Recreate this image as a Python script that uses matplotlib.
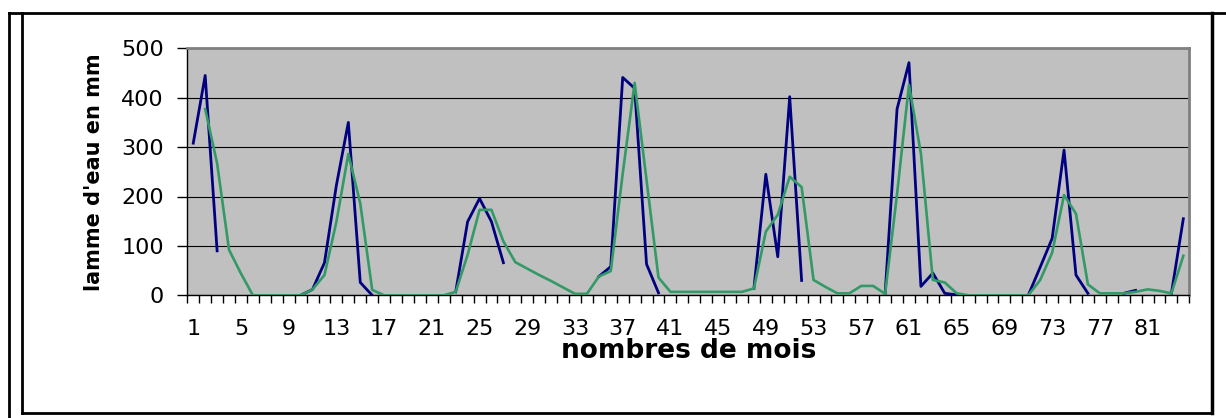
import numpy as np
import matplotlib
matplotlib.use('Agg')
import matplotlib.pyplot as plt
from matplotlib.lines import Line2D

nan = np.nan

# months 1..84
mois = np.arange(1, 85)

# observed (blue) - gaps where the series is not drawn
observe = [308, 445, 90, nan, nan, nan, nan, nan, nan, 0,
           12, 66, 223, 350, 26, 0, nan, nan, nan, nan,
           nan, nan, 7, 149, 196, 149, 66, nan, nan, nan,
           nan, nan, nan, nan, 38, 58, 441, 419, 63, 5,
           nan, nan, nan, nan, nan, nan, nan, 14, 245, 78,
           402, 30, nan, nan, nan, nan, nan, nan, 3, 377,
           471, 18, 45, 4, 1, nan, nan, nan, nan, nan,
           0, 57, 115, 294, 41, 4, nan, nan, 4, 10,
           nan, nan, 4, 155]

# simulated (green)
simule = [nan, 377, 267, 92, 44, 0, 0, 0, 0, 0,
          12, 41, 149, 286, 186, 11, 0, 0, 0, 0,
          0, 0, 7, 82, 173, 173, 109, 67, 54, 41,
          29, 16, 3, 3, 38, 49, 246, 430, 233, 36,
          7, 7, 7, 7, 7, 7, 7, 14, 129, 163,
          240, 219, 31, 17, 4, 4, 19, 19, 3, 205,
          426, 287, 31, 26, 4, 0, 0, 0, 0, 0,
          0, 31, 86, 203, 165, 22, 4, 4, 4, 7,
          12, 9, 4, 80]

fig = plt.figure(figsize=(12.26, 4.18), dpi=100)
W, H = 1226.0, 418.0
ax = fig.add_axes([187.3 / W, 1 - 295.3 / H, 1002 / W, 247 / H])
ax.set_facecolor('#C0C0C0')

ax.plot(mois, observe, color='#000080', lw=2.0, zorder=3)
ax.plot(mois, simule, color='#339966', lw=1.9, zorder=4)

ax.set_xlim(0.5, 84.5)
ax.set_ylim(0, 500)
ax.set_yticks([0, 100, 200, 300, 400, 500])
ax.grid(axis='y', color='black', lw=0.8, zorder=1)
ax.set_axisbelow(True)

ax.set_xticks(np.arange(1, 85, 4))
ax.set_xticklabels([str(v) for v in np.arange(1, 85, 4)])
ax.set_xticks(np.arange(0.5, 85, 1), minor=True)
ax.tick_params(axis='x', which='major', length=0, pad=17, labelsize=16)
ax.tick_params(axis='x', which='minor', length=6, width=1, direction='out', color='black')
ax.tick_params(axis='y', length=7, width=1, direction='out', pad=10, labelsize=16)

for s in ['top', 'right']:
    ax.spines[s].set_color('#808080')
    ax.spines[s].set_linewidth(2)
for s in ['left', 'bottom']:
    ax.spines[s].set_color('black')
    ax.spines[s].set_linewidth(1)

ax.set_xlabel('nombres de mois', fontsize=19, fontweight='bold', labelpad=-1)
ax.set_ylabel("lamme d'eau en mm", fontsize=15, fontweight='bold', labelpad=12)

# outer frame lines (pixel coords)
def fline(x0, y0, x1, y1, lw=2):
    fig.add_artist(Line2D([x0 / W, x1 / W], [1 - y0 / H, 1 - y1 / H],
                          transform=fig.transFigure, color='black', lw=lw))

fline(9, 12.5, 1226, 12.5)
fline(9, 12.5, 9, 418)
fline(22, 12.5, 22, 413)
fline(22, 413, 1211.5, 413)
fline(1211.5, 12.5, 1211.5, 413, lw=2.5)

fig.savefig('out.png', dpi=100)
